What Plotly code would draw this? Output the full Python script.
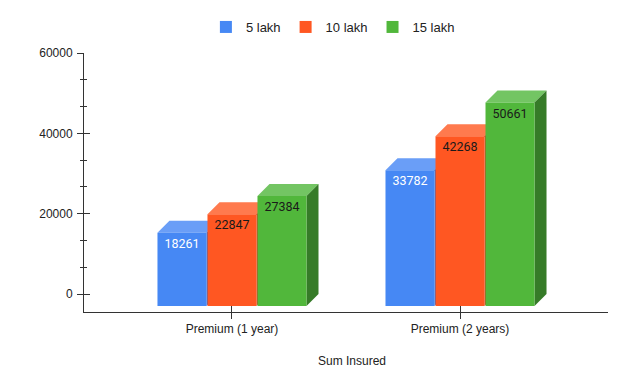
import plotly.graph_objects as go

# ---- data ----
categories = ["Premium (1 year)", "Premium (2 years)"]
series_names = ["5 lakh", "10 lakh", "15 lakh"]
values_5 = [18261, 33782]
values_10 = [22847, 42268]
values_15 = [27384, 50661]
y_ticks = [0, 20000, 40000, 60000]
x_title = "Sum Insured"

series_values = [values_5, values_10, values_15]

# ---- styles ----
front_colors = ["#4688F4", "#FF5722", "#51B73B"]
top_colors = ["#6A9EF7", "#FF7A4E", "#73C563"]
side_colors = ["#3263C4", "#C4401A", "#367B28"]
label_colors = ["#FFFFFF", "#1a1a1a", "#1a1a1a"]

slot = 0.2193      # distance between bar centers (x units)
bw = 0.215         # bar width (x units)
dx = 0.0526        # 3D depth offset in x units
dy = 2988          # 3D depth offset in y units
x_range = [-0.649, 1.649]
y_range = [-4481, 60000]

fig = go.Figure()
shapes = []
for k, (name, vals) in enumerate(zip(series_names, series_values)):
    xs = [i + (k - 1) * slot for i in range(len(categories))]
    fig.add_trace(go.Bar(
        name=name, x=xs, y=vals, base=[-dy] * len(vals), width=bw,
        marker=dict(color=front_colors[k], line=dict(width=0)),
        text=[str(v) for v in vals], textposition="inside",
        insidetextanchor="end", textangle=0,
        textfont=dict(family="Roboto", size=12.5, color=label_colors[k]),
        hoverinfo="skip",
    ))
    for xc, v in zip(xs, vals):
        xl, xr = xc - bw / 2, xc + bw / 2
        top = v - dy
        shapes.append(dict(
            type="path", xref="x", yref="y", layer="below",
            path=f"M{xl},{top} L{xr},{top} L{xr+dx},{v} L{xl+dx},{v} Z",
            fillcolor=top_colors[k], line=dict(width=0)))
        shapes.append(dict(
            type="path", xref="x", yref="y", layer="below",
            path=f"M{xr},{-dy} L{xr},{top} L{xr+dx},{v} L{xr+dx},0 Z",
            fillcolor=side_colors[k], line=dict(width=0)))

# invisible trace for overlay axes (inside tick halves)
fig.add_trace(go.Scatter(x=[None], y=[None], xaxis="x2", yaxis="y2",
                         showlegend=False, hoverinfo="skip"))

axis_font = dict(family="Liberation Sans, Arial", size=12, color="#222222")
tick_col = "#333333"

fig.update_layout(
    width=640, height=384,
    margin=dict(l=84, r=32, t=53, b=72),
    paper_bgcolor="white", plot_bgcolor="white",
    barmode="overlay",
    shapes=shapes,
    showlegend=True,
    legend=dict(orientation="h", x=0.475, xanchor="center", y=1.1004,
                yanchor="middle", font=dict(family="Liberation Sans, Arial",
                                            size=13, color="#222222"),
                bgcolor="rgba(0,0,0,0)", entrywidthmode="pixels"),
    xaxis=dict(range=x_range, tickvals=list(range(len(categories))),
               ticktext=categories, showgrid=False, zeroline=False,
               showline=True, linecolor=tick_col, linewidth=1,
               ticks="outside", ticklen=6, tickcolor=tick_col,
               tickfont=axis_font, fixedrange=True),
    yaxis=dict(range=y_range, tickvals=y_ticks,
               ticktext=[str(t) for t in y_ticks], showgrid=False,
               zeroline=False, showline=True, linecolor=tick_col,
               linewidth=1, ticks="outside", ticklen=6, tickcolor=tick_col,
               ticklabelstandoff=2,
               minor=dict(ticks="outside", ticklen=3, tickcolor=tick_col,
                          dtick=20000 / 3, tick0=0, showgrid=False),
               tickfont=axis_font, fixedrange=True),
    xaxis2=dict(overlaying="x", range=x_range,
                tickvals=list(range(len(categories))), showticklabels=False,
                showgrid=False, zeroline=False, showline=False,
                ticks="inside", ticklen=6, tickcolor=tick_col),
    yaxis2=dict(overlaying="y", range=y_range, tickvals=y_ticks,
                showticklabels=False, showgrid=False, zeroline=False,
                showline=False, ticks="inside", ticklen=6, tickcolor=tick_col,
                minor=dict(ticks="inside", ticklen=3, tickcolor=tick_col,
                           dtick=20000 / 3, tick0=0, showgrid=False)),
    annotations=[dict(text=x_title, xref="paper", yref="paper",
                      x=0.511, y=-0.189, xanchor="center", yanchor="middle",
                      showarrow=False, font=axis_font)],
)

fig.write_html("out.html",
               config={"displayModeBar": False},
               post_script="document.body.style.margin='0';"
                           "document.body.style.overflow='hidden';")
